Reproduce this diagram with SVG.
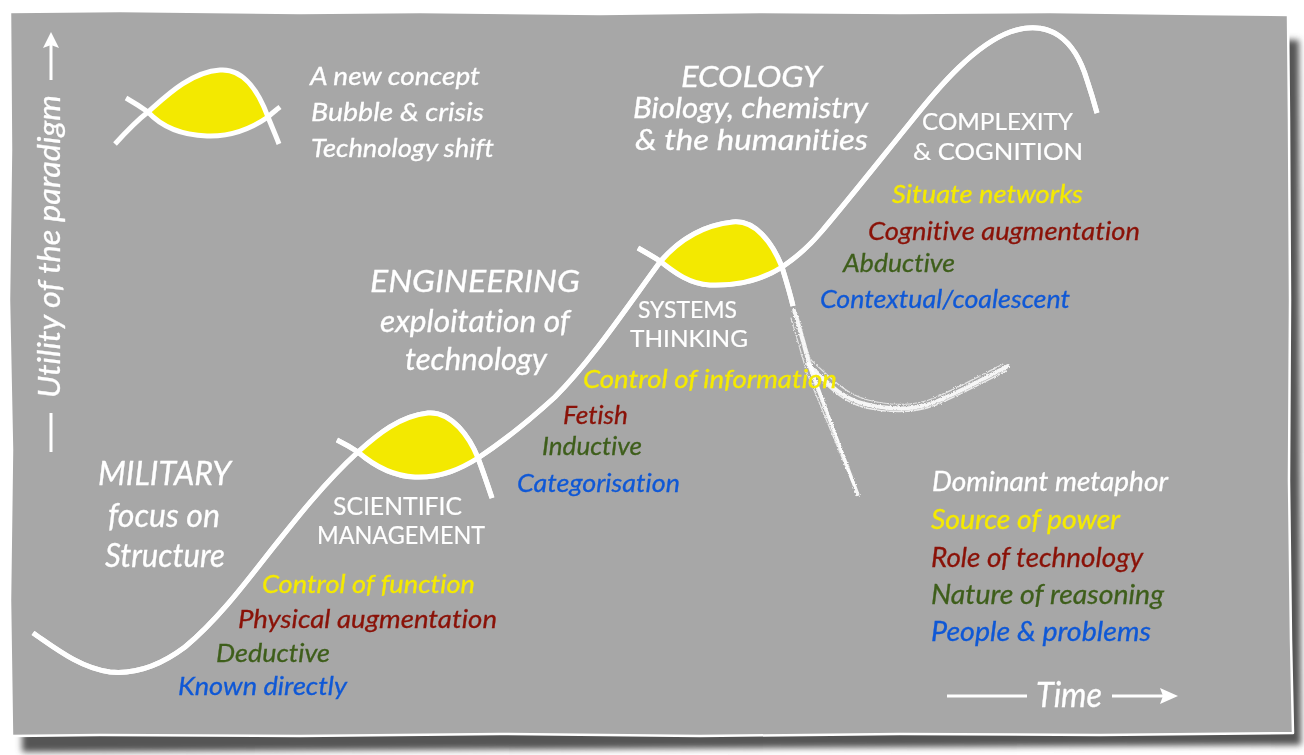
<svg xmlns="http://www.w3.org/2000/svg" width="1304" height="755" viewBox="0 0 1304 755">
<style>
.t{font-family:Lato,"Open Sans","Liberation Sans",sans-serif;font-style:italic;stroke-width:0.3;font-variant-ligatures:none;font-feature-settings:"liga" 0,"dlig" 0;}
.u{font-family:Lato,"Open Sans","Liberation Sans",sans-serif;font-style:normal;stroke-width:0.2;font-variant-ligatures:none;}
.w{fill:#ffffff;stroke:#ffffff}
.y{fill:#f5ea00;stroke:#f5ea00}
.r{fill:#8a1208;stroke:#8a1208}
.g{fill:#3e5e1b;stroke:#3e5e1b}
.b{fill:#0f58d6;stroke:#0f58d6}
.curve{fill:none;stroke:#ffffff;stroke-width:5;stroke-linecap:butt;}
.fill{fill:#f3e900;stroke:none;}
.chalk{fill:none;stroke:#ffffff;stroke-linecap:round;}
</style>
<defs>
<filter id="blur" x="-5%" y="-5%" width="110%" height="110%"><feGaussianBlur stdDeviation="3"/></filter>
<filter id="rough" x="-10%" y="-10%" width="120%" height="120%">
<feTurbulence type="fractalNoise" baseFrequency="0.9" numOctaves="2" seed="3" result="n"/>
<feDisplacementMap in="SourceGraphic" in2="n" scale="3" xChannelSelector="R" yChannelSelector="G"/>
</filter>
</defs>
<rect x="0" y="0" width="1304" height="755" fill="#ffffff"/>
<g id="frame">
<path d="M22,30 L1299,40 L1301,745 L22,752 Z" fill="#555555" filter="url(#blur)"/>
<path d="M10,12 L120,11 L300,13 L420,12 L600,14 L760,12 L900,13 L1050,12 L1200,14 L1288,15 L1289,120 L1290,300 L1289,480 L1291,640 L1293,733 L1100,735 L900,734 L700,736 L500,734 L300,736 L100,735 L12,736 L10,600 L12,450 L9,300 L11,150 Z" fill="#a7a7a7" stroke="#ffffff" stroke-width="2.5" stroke-linejoin="round"/>
</g>
<g id="connectors">
<path id="curve-1" class="curve" d="M33,633 C55,648 80,668 110,672 C140,675 165,662 185,647 C215,622 240,590 265,558 C295,520 325,482 358,452 C378,434 400,416 428,413 C452,411 470,438 478,458 C484,474 488,486 492,498"/>
<path id="curve-2" class="curve" d="M337,440 C345,444 352,448 358,452 C372,464 390,476 415,477 C442,478 462,468 478,458 C505,440 530,420 555,397 C590,362 625,310 660,262 C672,248 695,226 733,222 C755,220 772,242 782,267 C786,280 790,293 793,306"/>
<path id="curve-3" class="curve" d="M638,248 C645,252 652,256 660,261 C675,273 690,284 710,285 C740,286 765,278 782,267 C800,255 812,243 822,231 C850,198 880,160 910,123 C940,85 975,45 1010,32 C1050,18 1075,40 1087,80 C1091,92 1094,102 1097,113"/>
<g id="chalk" class="chalk" filter="url(#rough)">
<path d="M794,310 L810,368 L858,495" stroke-width="3.5" opacity="0.9"/>
<path d="M797,314 L813,371 L855,488" stroke-width="1.5" opacity="0.8"/>
<path d="M791,318 L807,373 L852,482" stroke-width="1.2" opacity="0.7"/>
<path d="M808,364 C825,380 840,398 865,404 C890,410 915,410 935,402 C960,392 985,378 1008,366" stroke-width="4" opacity="0.9"/>
<path d="M810,369 C826,385 842,402 866,408 C890,413 915,413 936,405 C960,395 984,382 1006,371" stroke-width="1.5" opacity="0.8"/>
<path d="M812,361 C830,377 845,394 868,400 C892,406 916,406 934,398 C958,388 982,375 1003,364" stroke-width="1.2" opacity="0.7"/>
</g>
</g>
<g id="bubble-scientific">
<path class="fill" d="M358,452 C378,434 400,416 428,413 C452,411 470,438 478,458 C462,468 442,478 415,477 C390,476 372,464 358,452 Z"/>
</g>
<g id="bubble-systems">
<path class="fill" d="M660,261 C672,248 695,226 733,222 C755,220 772,242 782,267 C765,278 740,286 710,285 C690,284 675,273 660,261 Z"/>
</g>
<use href="#curve-1"/>
<use href="#curve-2"/>
<use href="#curve-3"/>
<g id="legend-bubble">
<path class="fill" d="M148,112 C165,97 190,72 220,70 C245,68 260,95 268,117 C255,126 235,137 207,136 C180,135 160,125 148,112 Z"/>
<path class="curve" d="M115,144 C125,133 135,122 148,112 C165,97 190,72 220,70 C245,68 260,95 268,117 C272,127 276,136 279,144"/>
<path class="curve" d="M126,98 C133,102 141,107 148,112 C160,125 180,135 207,136 C235,137 255,126 268,117 C272,113 276,110 280,107"/>
<text class="t w" x="310" y="85" font-size="26" textLength="170" lengthAdjust="spacingAndGlyphs">A new concept</text>
<text class="t w" x="311" y="121" font-size="26" textLength="173" lengthAdjust="spacingAndGlyphs">Bubble &amp; crisis</text>
<text class="t w" x="311" y="157" font-size="26" textLength="183" lengthAdjust="spacingAndGlyphs">Technology shift</text>
</g>
<g id="y-axis">
<path d="M51,80 L51,42" stroke="#ffffff" stroke-width="3"/>
<path d="M51,32 L59,48 L51,45 L43,48 Z" fill="#ffffff"/>
<path d="M51,413 L51,452" stroke="#ffffff" stroke-width="3"/>
<text class="t w" transform="translate(60,398) rotate(-90)" font-size="30" textLength="303" lengthAdjust="spacingAndGlyphs">Utility of the paradigm</text>
</g>
<g id="x-axis">
<path d="M947,696 L1027,696" stroke="#ffffff" stroke-width="3"/>
<path d="M1112,696 L1166,696" stroke="#ffffff" stroke-width="3"/>
<path d="M1178,696 L1160,688 L1163,696 L1160,704 Z" fill="#ffffff"/>
<text class="t w" x="1036" y="707" font-size="34" textLength="66" lengthAdjust="spacingAndGlyphs">Time</text>
</g>
<g id="node-military">
<text class="t w" x="98" y="485" font-size="32" textLength="133" lengthAdjust="spacingAndGlyphs">MILITARY</text>
<text class="t w" x="108" y="527" font-size="32" textLength="112" lengthAdjust="spacingAndGlyphs">focus on</text>
<text class="t w" x="105" y="567" font-size="32" textLength="120" lengthAdjust="spacingAndGlyphs">Structure</text>
</g>
<g id="node-scientific-management">
<text class="u w" x="333" y="515" font-size="25" textLength="129" lengthAdjust="spacingAndGlyphs">SCIENTIFIC</text>
<text class="u w" x="317" y="544" font-size="25" textLength="168" lengthAdjust="spacingAndGlyphs">MANAGEMENT</text>
<text class="t y" x="262" y="593" font-size="26" textLength="213" lengthAdjust="spacingAndGlyphs">Control of function</text>
<text class="t r" x="238" y="628" font-size="26" textLength="259" lengthAdjust="spacingAndGlyphs">Physical augmentation</text>
<text class="t g" x="216" y="662" font-size="26" textLength="114" lengthAdjust="spacingAndGlyphs">Deductive</text>
<text class="t b" x="178" y="695" font-size="26" textLength="169" lengthAdjust="spacingAndGlyphs">Known directly</text>
</g>
<g id="node-engineering">
<text class="t w" x="370" y="292" font-size="31" textLength="210" lengthAdjust="spacingAndGlyphs">ENGINEERING</text>
<text class="t w" x="380" y="332" font-size="31" textLength="190" lengthAdjust="spacingAndGlyphs">exploitation of</text>
<text class="t w" x="405" y="370" font-size="31" textLength="142" lengthAdjust="spacingAndGlyphs">technology</text>
</g>
<g id="node-systems-thinking">
<text class="u w" x="638" y="318" font-size="24" textLength="99" lengthAdjust="spacingAndGlyphs">SYSTEMS</text>
<text class="u w" x="630" y="347" font-size="24" textLength="118" lengthAdjust="spacingAndGlyphs">THINKING</text>
<text class="t y" x="583" y="388" font-size="26" textLength="254" lengthAdjust="spacingAndGlyphs">Control of information</text>
<text class="t r" x="563" y="424" font-size="26" textLength="65" lengthAdjust="spacingAndGlyphs">Fetish</text>
<text class="t g" x="542" y="455" font-size="26" textLength="100" lengthAdjust="spacingAndGlyphs">Inductive</text>
<text class="t b" x="517" y="492" font-size="26" textLength="163" lengthAdjust="spacingAndGlyphs">Categorisation</text>
</g>
<g id="node-ecology">
<text class="t w" x="681" y="87" font-size="28" textLength="141" lengthAdjust="spacingAndGlyphs">ECOLOGY</text>
<text class="t w" x="633" y="118" font-size="28" textLength="235" lengthAdjust="spacingAndGlyphs">Biology, chemistry</text>
<text class="t w" x="635" y="150" font-size="28" textLength="233" lengthAdjust="spacingAndGlyphs">&amp; the humanities</text>
</g>
<g id="node-complexity-cognition">
<text class="u w" x="922" y="130" font-size="24" textLength="151" lengthAdjust="spacingAndGlyphs">COMPLEXITY</text>
<text class="u w" x="913" y="160" font-size="24" textLength="170" lengthAdjust="spacingAndGlyphs">&amp; COGNITION</text>
<text class="t y" x="892" y="203" font-size="26" textLength="191" lengthAdjust="spacingAndGlyphs">Situate networks</text>
<text class="t r" x="868" y="240" font-size="26" textLength="272" lengthAdjust="spacingAndGlyphs">Cognitive augmentation</text>
<text class="t g" x="843" y="272" font-size="26" textLength="112" lengthAdjust="spacingAndGlyphs">Abductive</text>
<text class="t b" x="820" y="308" font-size="26" textLength="250" lengthAdjust="spacingAndGlyphs">Contextual/coalescent</text>
</g>
<g id="legend-key">
<text class="t w" x="932" y="491" font-size="27" textLength="236" lengthAdjust="spacingAndGlyphs">Dominant metaphor</text>
<text class="t y" x="931" y="529" font-size="27" textLength="189" lengthAdjust="spacingAndGlyphs">Source of power</text>
<text class="t r" x="931" y="567" font-size="27" textLength="212" lengthAdjust="spacingAndGlyphs">Role of technology</text>
<text class="t g" x="931" y="604" font-size="27" textLength="233" lengthAdjust="spacingAndGlyphs">Nature of reasoning</text>
<text class="t b" x="931" y="641" font-size="27" textLength="220" lengthAdjust="spacingAndGlyphs">People &amp; problems</text>
</g>
</svg>
